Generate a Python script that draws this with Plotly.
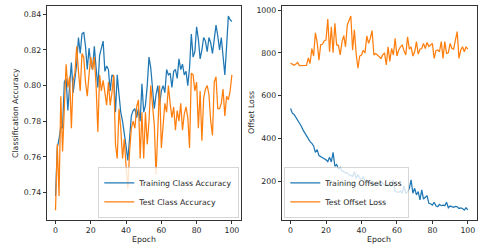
import plotly.graph_objects as go

epochs = list(range(101))

train_acc = [0.738, 0.765, 0.770, 0.777, 0.776, 0.802, 0.804, 0.786, 0.800, 0.813,
             0.796, 0.804, 0.812, 0.827, 0.818, 0.829, 0.830, 0.822, 0.809, 0.821,
             0.812, 0.809, 0.822, 0.810, 0.799, 0.817, 0.822, 0.825, 0.808, 0.811,
             0.809, 0.797, 0.806, 0.805, 0.785, 0.806, 0.795, 0.785, 0.780, 0.774,
             0.766, 0.758, 0.772, 0.783, 0.786, 0.787, 0.782, 0.787, 0.780, 0.801,
             0.785, 0.789, 0.800, 0.816, 0.810, 0.799, 0.787, 0.795, 0.800, 0.789,
             0.797, 0.800, 0.796, 0.809, 0.806, 0.807, 0.799, 0.808, 0.809, 0.804,
             0.815, 0.809, 0.812, 0.806, 0.808, 0.800, 0.810, 0.829, 0.816, 0.819,
             0.833, 0.826, 0.815, 0.820, 0.827, 0.825, 0.819, 0.827, 0.824, 0.818,
             0.826, 0.834, 0.828, 0.820, 0.827, 0.818, 0.806, 0.822, 0.839, 0.837,
             0.836]

test_acc = [0.730, 0.767, 0.738, 0.794, 0.763, 0.791, 0.812, 0.799, 0.805, 0.776,
            0.803, 0.807, 0.822, 0.808, 0.797, 0.818, 0.816, 0.802, 0.794, 0.806,
            0.816, 0.809, 0.816, 0.800, 0.774, 0.806, 0.797, 0.803, 0.795, 0.789,
            0.802, 0.789, 0.796, 0.806, 0.767, 0.759, 0.787, 0.776, 0.759, 0.770,
            0.755, 0.742, 0.763, 0.776, 0.780, 0.776, 0.788, 0.792, 0.759, 0.785,
            0.759, 0.785, 0.767, 0.780, 0.800, 0.786, 0.778, 0.750, 0.780, 0.800,
            0.765, 0.778, 0.790, 0.785, 0.800, 0.790, 0.782, 0.788, 0.775, 0.786,
            0.780, 0.790, 0.775, 0.784, 0.788, 0.782, 0.765, 0.807, 0.806, 0.797,
            0.802, 0.776, 0.797, 0.769, 0.793, 0.798, 0.800, 0.795, 0.780, 0.772,
            0.802, 0.805, 0.787, 0.787, 0.790, 0.798, 0.783, 0.794, 0.792, 0.797,
            0.806]

train_loss = [540, 518, 512, 500, 488, 470, 458, 440, 425, 410,
              398, 385, 377, 365, 335, 348, 320, 316, 312, 305,
              300, 292, 312, 290, 335, 270, 278, 257, 264, 248,
              245, 238, 240, 230, 228, 222, 245, 214, 232, 215,
              210, 222, 203, 205, 192, 190, 188, 190, 183, 185,
              187, 180, 192, 182, 180, 185, 183, 175, 208, 152,
              150, 148, 155, 144, 180, 144, 150, 167, 207, 144,
              167, 136, 152, 113, 160, 117, 125, 133, 97, 95,
              89, 102, 85, 81, 92, 86, 88, 86, 102, 76,
              84, 81, 78, 82, 81, 73, 76, 73, 65, 76,
              66]

test_loss = [752, 745, 742, 748, 755, 740, 740, 740, 740, 741,
             776, 750, 820, 785, 893, 850, 766, 838, 840, 855,
             860, 958, 805, 922, 800, 938, 837, 835, 790, 850,
             880, 828, 930, 948, 972, 812, 907, 797, 728, 785,
             790, 812, 800, 879, 844, 868, 904, 790, 797, 790,
             784, 774, 790, 800, 743, 828, 760, 820, 790, 868,
             785, 813, 828, 836, 810, 790, 875, 817, 828, 785,
             805, 852, 794, 817, 820, 844, 820, 848, 830, 836,
             844, 774, 810, 813, 805, 852, 774, 852, 797, 800,
             844, 820, 817, 860, 899, 774, 813, 828, 805, 828,
             817]

x_ticks = [0, 20, 40, 60, 80, 100]
acc_ticks = [0.74, 0.76, 0.78, 0.80, 0.82, 0.84]
loss_ticks = [200, 400, 600, 800, 1000]

BLUE = "#1f77b4"
ORANGE = "#ff7f0e"
FONT = "DejaVu Sans"
FS = 7.8
TXT = "#262626"

W, H = 500, 251
def px(x):
    return x / W
def py(y):
    return 1 - y / H

fig = go.Figure()
fig.add_trace(go.Scatter(x=epochs, y=train_acc, mode="lines", name="Training Class Accuracy",
                         line=dict(color=BLUE, width=1.25), xaxis="x", yaxis="y", legend="legend"))
fig.add_trace(go.Scatter(x=epochs, y=test_acc, mode="lines", name="Test Class Accuracy",
                         line=dict(color=ORANGE, width=1.25), xaxis="x", yaxis="y", legend="legend"))
fig.add_trace(go.Scatter(x=epochs, y=train_loss, mode="lines", name="Training Offset Loss",
                         line=dict(color=BLUE, width=1.25), xaxis="x2", yaxis="y2", legend="legend2"))
fig.add_trace(go.Scatter(x=epochs, y=test_loss, mode="lines", name="Test Offset Loss",
                         line=dict(color=ORANGE, width=1.25), xaxis="x2", yaxis="y2", legend="legend2"))

axis_common = dict(showgrid=False, zeroline=False, showline=True, mirror=True,
                   linecolor="#333", linewidth=0.8, ticks="outside", ticklen=3,
                   tickwidth=0.8, tickcolor="#333",
                   tickfont=dict(family=FONT, size=FS, color=TXT))

ydom = [py(220), py(6)]
legend_common = dict(bgcolor="rgba(255,255,255,0.8)", bordercolor="#cccccc", borderwidth=0.8,
                     font=dict(family=FONT, size=FS, color=TXT), tracegroupgap=0,
                     itemwidth=30)
fig.update_layout(
    width=W, height=H,
    margin=dict(l=0, r=0, t=0, b=0),
    paper_bgcolor="white", plot_bgcolor="white",
    font=dict(family=FONT, size=FS, color=TXT),
    xaxis=dict(domain=[px(46.7), px(240.7)], range=[-5, 105], tickvals=x_ticks,
               anchor="y", **axis_common),
    yaxis=dict(domain=ydom, range=[0.7245, 0.8447], tickvals=acc_ticks,
               tickformat=".2f", anchor="x", **axis_common),
    xaxis2=dict(domain=[px(281.7), px(476.7)], range=[-5, 105], tickvals=x_ticks,
                anchor="y2", **axis_common),
    yaxis2=dict(domain=ydom, range=[19, 1018.7], tickvals=loss_ticks,
                anchor="x2", **axis_common),
    legend=dict(x=px(238.5), y=py(217.5), xanchor="right", yanchor="bottom", **legend_common),
    legend2=dict(x=px(284.5), y=py(217.5), xanchor="left", yanchor="bottom", **legend_common),
    showlegend=True,
    annotations=[
        dict(text="Epoch", x=px((46.7 + 240.7) / 2), y=py(239.5), xref="paper", yref="paper",
             showarrow=False, xanchor="center", yanchor="middle",
             font=dict(family=FONT, size=FS, color=TXT)),
        dict(text="Epoch", x=px((281.7 + 476.7) / 2), y=py(239.5), xref="paper", yref="paper",
             showarrow=False, xanchor="center", yanchor="middle",
             font=dict(family=FONT, size=FS, color=TXT)),
        dict(text="Classification Accuracy", x=px(15), y=py(113), xref="paper", yref="paper",
             showarrow=False, xanchor="center", yanchor="middle", textangle=-90,
             font=dict(family=FONT, size=FS, color=TXT)),
        dict(text="Offset Loss", x=px(251), y=py(113), xref="paper", yref="paper",
             showarrow=False, xanchor="center", yanchor="middle", textangle=-90,
             font=dict(family=FONT, size=FS, color=TXT)),
    ],
)

fig.write_html("out.html")
